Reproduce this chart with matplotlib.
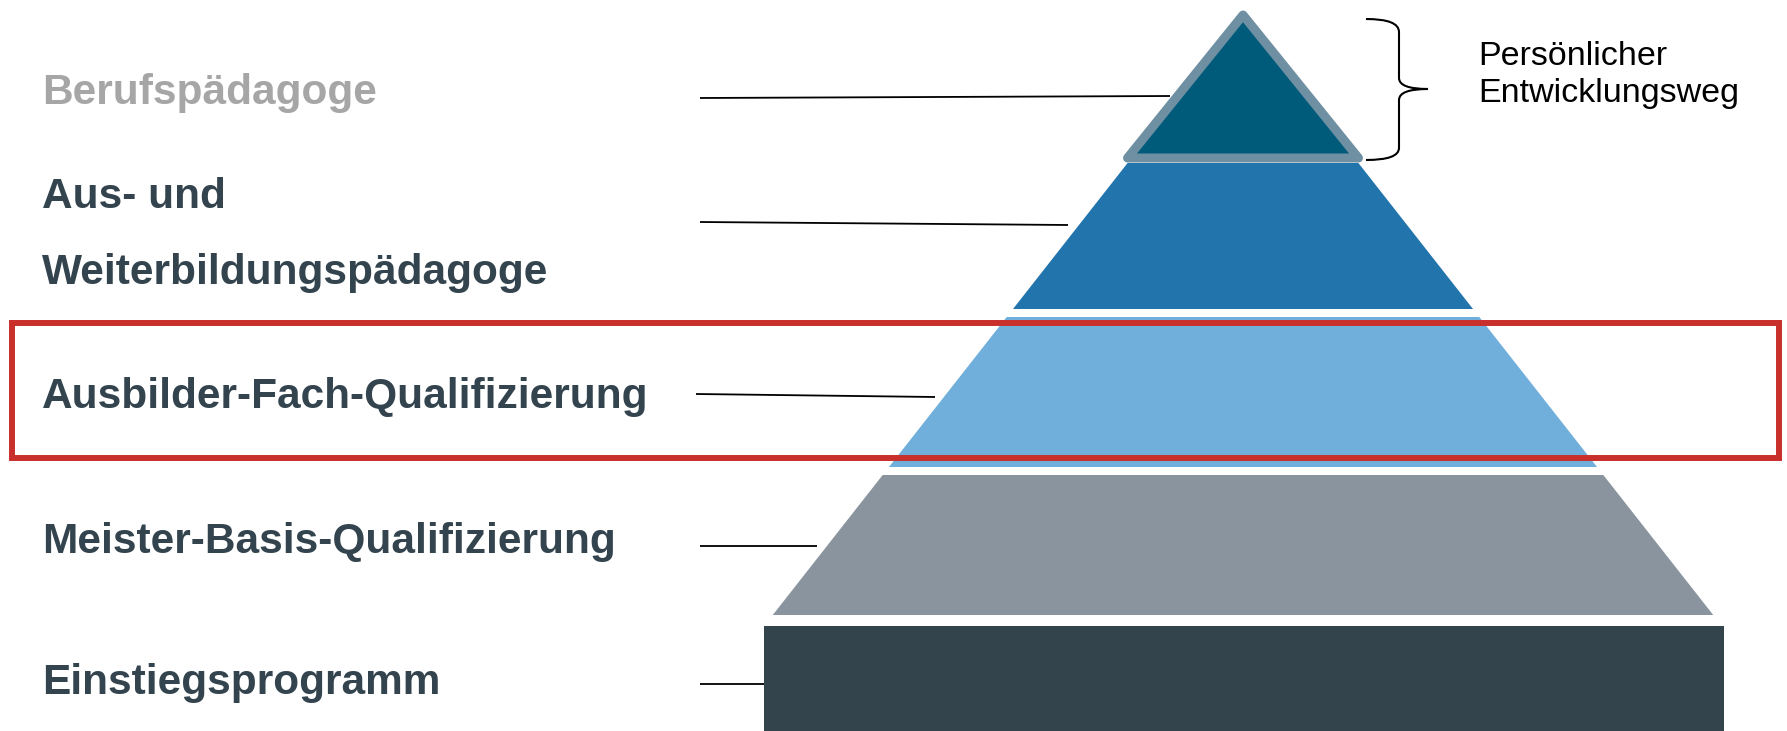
import matplotlib
matplotlib.use("Agg")
import matplotlib.pyplot as plt
from matplotlib.patches import Polygon, Rectangle, PathPatch
from matplotlib.path import Path

# ---- content ----
labels = ["Berufspädagoge", "Aus- und", "Weiterbildungspädagoge",
          "Ausbilder-Fach-Qualifizierung", "Meister-Basis-Qualifizierung",
          "Einstiegsprogramm"]
label_colors = ["#A6A6A6", "#33444E", "#33444E", "#33444E", "#33444E", "#33444E"]
side_label = ["Persönlicher", "Entwicklungsweg"]

# pyramid levels (top to bottom), y in pixel space
level_names = ["Berufspädagoge", "Aus- und Weiterbildungspädagoge",
               "Ausbilder-Fach-Qualifizierung", "Meister-Basis-Qualifizierung",
               "Einstiegsprogramm"]
level_top = [15, 163, 317, 475, 626]
level_bottom = [158, 309, 467, 615, 731]
level_colors = ["#005B7B", "#2274AD", "#70AFDB", "#8A949F", "#33444D"]

# ---- layout ----
W, H = 1787, 731
CX = 1243          # pyramid centre
K = 0.785          # half-width per pixel of depth
Y0 = 16            # apex

def hw(y):
    return K * (y - Y0)

fig = plt.figure(figsize=(W / 100, H / 100), dpi=100)
ax = fig.add_axes([0, 0, 1, 1])
ax.set_xlim(0, W)
ax.set_ylim(H, 0)
ax.axis("off")

# levels 2-4 trapezoids
for i in range(1, 4):
    t, b = level_top[i], level_bottom[i]
    poly = Polygon([(CX - hw(t), t), (CX + hw(t), t), (CX + hw(b), b), (CX - hw(b), b)],
                   closed=True, facecolor=level_colors[i], edgecolor="none", zorder=2)
    ax.add_patch(poly)

# base rectangle
t = level_top[4]
ax.add_patch(Rectangle((764, t), 1724 - 764, level_bottom[4] - t,
                       facecolor=level_colors[4], edgecolor="none", zorder=2))

# apex triangle with outline
b = level_bottom[0]
tri_hw = hw(b) + 4
tri = Polygon([(CX, level_top[0]), (CX + tri_hw, b), (CX - tri_hw, b)], closed=True,
              facecolor=level_colors[0], edgecolor="#6F8FA2", linewidth=6.5,
              joinstyle="round", zorder=3)
ax.add_patch(tri)

# label texts
label_y = [104, 208, 284, 408, 553, 694]
for txt, col, y in zip(labels, label_colors, label_y):
    ax.text(42, y, txt, fontsize=30.5, fontweight="bold", color=col,
            family="Liberation Sans", va="baseline", ha="left", zorder=5)

# leader lines
leaders = [((700, 98), (1170, 96)),
           ((700, 222), (1068, 225)),
           ((696, 394), (935, 397)),
           ((700, 546), (817, 546)),
           ((700, 684), (764, 684))]
for (x1, y1), (x2, y2) in leaders:
    ax.plot([x1, x2], [y1, y2], color="black", lw=1.3, zorder=4,
            solid_capstyle="butt")

# highlight rectangle
ax.add_patch(Rectangle((12, 323), 1779 - 12, 458 - 323, facecolor="none",
                       edgecolor="#C9302C", linewidth=4.3, zorder=6))

# brace
verts = [(1366, 19), (1399, 19), (1399, 32), (1399, 78), (1399, 89), (1428, 89),
         (1399, 89), (1399, 100), (1399, 148), (1399, 160), (1366, 160)]
codes = [Path.MOVETO, Path.CURVE3, Path.CURVE3, Path.LINETO, Path.CURVE3, Path.CURVE3,
         Path.CURVE3, Path.CURVE3, Path.LINETO, Path.CURVE3, Path.CURVE3]
ax.add_patch(PathPatch(Path(verts, codes), facecolor="none", edgecolor="black",
                       linewidth=1.5, zorder=4))

ax.text(1478, 65, side_label[0], fontsize=24.5, color="black",
        family="Liberation Sans", va="baseline", ha="left")
ax.text(1478, 102, side_label[1], fontsize=24.5, color="black",
        family="Liberation Sans", va="baseline", ha="left")

fig.savefig("out.png", dpi=100, facecolor="white")
